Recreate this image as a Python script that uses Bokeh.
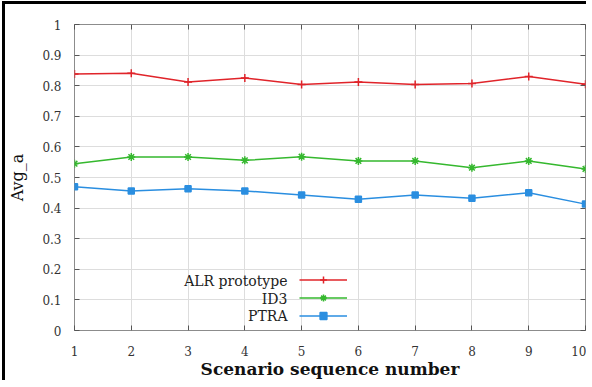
from bokeh.plotting import figure
from bokeh.models import LinearAxis, Legend, LegendItem, Label, FixedTicker, Range1d
from bokeh.embed import file_html
from bokeh.resources import INLINE

scenarios = [1, 2, 3, 4, 5, 6, 7, 8, 9, 10]
alr = [0.838, 0.841, 0.812, 0.825, 0.804, 0.812, 0.804, 0.807, 0.830, 0.805]
id3 = [0.545, 0.567, 0.567, 0.556, 0.568, 0.554, 0.554, 0.532, 0.554, 0.528]
ptra = [0.470, 0.456, 0.463, 0.456, 0.443, 0.429, 0.443, 0.432, 0.450, 0.413]
series_names = ["ALR prototype", "ID3", "PTRA"]
colors = ["#e0242a", "#35b82e", "#2a8ee0"]
yticks = [0, 0.1, 0.2, 0.3, 0.4, 0.5, 0.6, 0.7, 0.8, 0.9, 1]

FONT = "DejaVu Serif"

p = figure(width=584, height=379, output_backend="svg", toolbar_location=None,
           x_range=Range1d(1, 10), y_range=Range1d(0, 1),
           min_border_left=69, min_border_right=4, min_border_top=20, min_border_bottom=53)
p.styles = {"border-left": "3px solid black", "border-top": "3px solid black",
            "margin-left": "2px", "margin-top": "1px"}
p.background_fill_color = "white"
p.border_fill_color = "white"
p.outline_line_color = "#8c8c8c"
p.outline_line_width = 1

for ax in (p.xaxis[0], p.yaxis[0]):
    ax.major_label_text_font = FONT
    ax.major_label_text_font_size = "12px"
    ax.major_label_text_color = "#333333"
    ax.axis_label_text_font = FONT
    ax.axis_label_text_color = "#111111"
    ax.axis_line_color = None
    ax.major_tick_in = 5
    ax.major_tick_out = 0
    ax.minor_tick_line_color = None
    ax.major_tick_line_color = "#555555"

p.xaxis[0].ticker = FixedTicker(ticks=scenarios)
p.yaxis[0].ticker = FixedTicker(ticks=yticks)
p.xaxis[0].major_label_standoff = 15
p.yaxis[0].major_label_standoff = 13
p.yaxis[0].major_label_overrides = {0: "0", 1: "1"}
p.xaxis[0].axis_label = "Scenario sequence number"
p.xaxis[0].axis_label_text_font_size = "17px"
p.xaxis[0].axis_label_text_font_style = "bold"
p.xaxis[0].axis_label_standoff = 0
p.yaxis[0].axis_label = "Avg_a"
p.yaxis[0].axis_label_text_font_size = "16px"
p.yaxis[0].axis_label_text_font_style = "normal"
p.yaxis[0].axis_label_standoff = 12

# mirror ticks (no labels)
for loc, tk in (("right", yticks), ("above", scenarios)):
    a = LinearAxis(ticker=FixedTicker(ticks=tk))
    a.major_label_text_font_size = "1px"
    a.major_label_text_color = None
    a.major_label_standoff = 0
    a.major_tick_in = 5
    a.major_tick_out = 0
    a.minor_tick_line_color = None
    a.axis_line_color = None
    a.major_tick_line_color = "#555555"
    p.add_layout(a, loc)

p.xgrid.ticker = FixedTicker(ticks=scenarios)
p.ygrid.ticker = FixedTicker(ticks=yticks)
p.xgrid.grid_line_color = "#dddddd"
p.ygrid.grid_line_color = "#dddddd"

data = [alr, id3, ptra]
markers = ["cross", "asterisk", "square"]
msizes = [8, 8, 6]
items = []
for name, ys, c, m, s in zip(series_names, data, colors, markers, msizes):
    r1 = p.line(scenarios, ys, line_color=c, line_width=1.5)
    r2 = p.scatter(scenarios, ys, marker=m, size=s, line_color=c, fill_color=c, line_width=1.5)
    items.append(LegendItem(label=name, renderers=[r1, r2]))

# legend glyphs only; the (gnuplot-style) texts go to the left of them
leg = Legend(items=items, location=(225, 6), orientation="vertical",
             padding=0, margin=0, spacing=1, glyph_width=48, glyph_height=17,
             label_standoff=0, label_height=17,
             label_text_font=FONT, label_text_font_size="14px",
             label_text_color=None,
             border_line_color=None, background_fill_alpha=0)
p.add_layout(leg, "center")

label_y = [50, 32, 15]
for name, yy in zip(series_names, label_y):
    p.add_layout(Label(x=213, y=yy, x_units="screen", y_units="screen", text=name,
                       text_align="right", text_baseline="middle",
                       text_font=FONT, text_font_size="14px", text_color="#222222"))

open("out.html", "w").write(file_html(p, INLINE))
